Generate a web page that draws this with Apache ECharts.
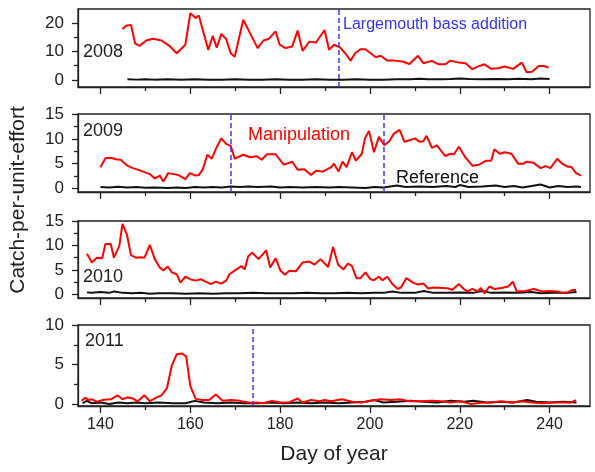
<!DOCTYPE html>
<html>
<head>
<meta charset="utf-8">
<script src="https://cdn.jsdelivr.net/npm/echarts@6/dist/echarts.min.js"></script>
<style>
  html, body { margin: 0; padding: 0; background: #fff; }
  #chart { width: 595px; height: 472px; }
</style>
</head>
<body>
<div id="chart"></div>
<script>
// [day of year, catch-per-unit-effort]
var manip2008 = [[144.9,17.9],[145.7,19.1],[146.8,19.4],[147.7,12.9],[148.7,12.0],[150.2,13.9],[151.7,14.5],[153.6,13.9],[155.5,11.8],[157,9.4],[158.9,12.4],[160,23.5],[161.2,21.8],[161.9,22.7],[164,10.6],[165,15.5],[165.9,11.4],[166.9,16.2],[168,14.4],[169,9.4],[169.9,8.2],[171.8,21.2],[173.3,16.5],[175,11.2],[176.3,13.9],[177.4,14.4],[179,17.1],[179.9,12.4],[181.2,11.2],[182.7,11.8],[183.9,17.4],[185,10.2],[186.5,13.5],[188,13.2],[189.9,17.6],[190.9,10.6],[192,12.4],[193.3,11.5],[194.5,9.4],[195.7,6.8],[196.7,9.4],[197.9,10.8],[199,10.8],[201.3,8.0],[202.4,8.5],[203.9,6.8],[205.4,6.8],[207.3,6.5],[208.8,5.6],[210.7,8.5],[211.9,5.9],[213.8,6.7],[215.3,5.5],[216.8,5.5],[217.9,6.8],[219.8,6.1],[221.3,5.9],[222.8,3.8],[224,4.7],[225.5,5.5],[227,3.9],[228.5,4.1],[230,4.7],[231.9,3.9],[233.8,6.1],[234.9,2.7],[236.1,2.9],[237.6,4.9],[238.7,4.9],[239.8,4.4]];
var ref2008 = [[146,0.2],[148,0.1],[150,0.2],[152,0.1],[155,0.2],[158,0.1],[161,0.2],[164,0.1],[167,0.1],[170,0.2],[173,0.1],[176,0.1],[179,0.2],[182,0.1],[185,0.1],[188,0.2],[191,0.1],[194,0.1],[197,0.2],[200,0.1],[203,0.1],[206,0.2],[209,0.2],[211,0.4],[213,0.2],[216,0.2],[218,0.3],[220,0.5],[222,0.3],[225,0.2],[228,0.3],[231,0.2],[233,0.4],[236,0.2],[238,0.5],[240,0.3]];

var manip2009 = [[140,4.3],[141.1,6.1],[142.3,6.2],[143.4,5.9],[144.5,5.8],[146,4.6],[147.2,4.1],[148.3,3.8],[149.8,3.3],[151,2.9],[152.1,2.0],[153.2,2.6],[154,1.4],[155.1,3.1],[156.3,2.9],[157.4,2.7],[158.9,1.9],[159.9,3.1],[161.2,2.6],[161.9,2.7],[162.8,3.9],[163.8,6.8],[164.8,6.0],[165.7,8.0],[166.9,10.1],[168,9.0],[169,8.6],[169.9,6.0],[171.8,6.8],[173.3,6.3],[174.8,6.5],[175.9,5.8],[177.1,6.9],[179,6.9],[180.8,4.8],[182.7,5.4],[183.9,3.8],[185.4,3.9],[186.9,2.7],[188,3.6],[189.5,3.4],[191.4,4.3],[192,5.0],[193,3.4],[193.9,5.4],[194.8,4.3],[196,7.3],[196.9,5.6],[198.2,7.0],[198.9,10.1],[199.8,11.6],[200.9,7.3],[202,10.4],[203.2,8.7],[204.3,9.5],[205.4,11.1],[206.6,11.8],[207.7,9.4],[208.8,9.7],[210,10.1],[211.1,9.4],[211.9,9.5],[212.6,10.6],[213.8,8.2],[214.9,8.7],[216.8,6.5],[217.9,7.0],[218.7,6.9],[219.8,8.4],[221.3,6.2],[222.8,4.6],[224.3,4.8],[225.9,5.6],[227,5.6],[227.7,7.9],[228.9,7.0],[230,7.3],[231.5,7.0],[233,5.0],[234.2,5.0],[234.9,5.4],[236.4,5.2],[238,4.1],[239.1,4.5],[240.2,4.1],[241.7,6.0],[242.8,5.0],[244,4.4],[244.8,4.4],[245.9,3.1],[247,2.6]];
var ref2009 = [[140,0.3],[142,0.2],[144,0.35],[146,0.2],[148,0.3],[150,0.15],[152,0.2],[155,0.1],[157,0.2],[159,0.1],[161,0.3],[163,0.2],[165,0.3],[167,0.2],[169,0.4],[171,0.3],[173,0.4],[175,0.3],[178,0.4],[180,0.2],[182,0.3],[185,0.2],[188,0.3],[191,0.2],[193,0.3],[196,0.2],[199,0.1],[201,0.3],[203,0.2],[206,0.6],[208,0.3],[211,0.4],[214,0.3],[217,0.5],[219,0.3],[220,0.7],[222,0.3],[225,0.4],[228,0.6],[230,0.3],[232,0.5],[234,0.2],[236,0.5],[238,0.8],[240,0.2],[242,0.5],[244,0.3],[246,0.4],[247,0.3]];

var manip2010 = [[137,8.3],[138.1,6.5],[139.2,7.5],[140.4,7.4],[141.1,10.3],[142.3,10.3],[143,7.5],[144.2,9.9],[144.9,14.4],[145.9,12.2],[146.8,8.0],[147.9,7.5],[149.1,7.6],[149.8,7.5],[151,10.1],[152.1,7.2],[153.2,5.5],[154,4.9],[155,5.7],[155.9,4.5],[157,4.1],[157.8,2.4],[158.9,3.6],[160,3.1],[161.2,2.8],[162.3,3.1],[163.4,2.6],[164.6,2.1],[165.7,2.6],[166.9,2.2],[168,2.8],[168.7,4.1],[170.3,5.1],[171.4,5.8],[172.1,5.1],[172.9,7.8],[173.8,8.5],[175.2,7.2],[176.9,9.0],[177.8,5.5],[179,7.4],[180.1,4.8],[181.1,4.0],[182,4.8],[183.5,4.7],[185,6.5],[186.5,6.7],[187.7,6.1],[189,7.2],[190.7,5.6],[191.8,9.7],[192.9,6.1],[194.1,5.1],[195.1,6.3],[196,5.8],[197,3.3],[197.9,3.3],[199,4.5],[200.1,3.1],[200.9,2.9],[202,3.6],[202.8,2.9],[203.9,3.6],[205,2.1],[206.2,1.1],[206.9,1.4],[208.1,3.3],[209.6,2.4],[210.7,2.0],[211.9,2.2],[213,1.2],[214.1,1.4],[216.4,1.3],[217.5,1.2],[218.3,0.9],[219.8,2.1],[220.9,1.1],[221.7,0.6],[222.8,1.1],[224,0.6],[224.7,1.3],[225.5,0.2],[226.6,1.6],[227.7,1.1],[229.3,1.3],[230.8,1.6],[231.8,2.6],[232.7,0.6],[234.6,0.7],[236.5,1.1],[238.3,0.6],[239.8,0.7],[241.7,0.6],[242.9,0.3],[244,0.4],[245.1,0.9],[245.9,0.9]];
var ref2010 = [[137,0.4],[138,0.3],[140,0.5],[142,0.3],[143,0.6],[145,0.3],[147,0.2],[149,0.3],[151,0.1],[153,0.2],[156,0.2],[159,0.1],[162,0.2],[165,0.1],[168,0.2],[171,0.2],[174,0.3],[177,0.2],[180,0.2],[183,0.2],[186,0.3],[189,0.2],[192,0.2],[195,0.3],[198,0.2],[201,0.3],[203,0.3],[205,0.6],[207,0.3],[210,0.3],[212,0.7],[214,0.3],[217,0.3],[220,0.4],[223,0.3],[225,0.7],[227,0.3],[230,0.4],[233,0.3],[236,0.5],[238,0.2],[241,0.3],[244,0.3],[246,0.5]];

var manip2011 = [[135.8,0.4],[136.6,0.8],[137.4,0.5],[138.1,0.6],[139.2,0.3],[140.8,0.55],[142.3,0.6],[143.8,1.1],[144.9,0.6],[146,0.85],[147.2,0.7],[148.3,0.35],[149.8,1.1],[151,0.35],[152.5,0.85],[153.6,1.1],[154.8,2.0],[155.9,4.9],[157,6.3],[158.2,6.4],[159.1,6.0],[160,2.3],[161.2,0.65],[162.7,0.5],[164.2,0.5],[165.7,1.2],[167.2,0.4],[169.1,0.5],[171,0.4],[173.3,0.15],[174.8,0.2],[176.3,0.1],[178.2,0.4],[180.1,0.2],[182,0.2],[183.9,0.7],[185,0.2],[186.9,0.5],[188.8,0.35],[189.9,0.5],[191.4,0.35],[193.7,0.6],[196,0.3],[198.2,0.2],[200.1,0.4],[202.4,0.6],[204.7,0.5],[206.6,0.6],[208.8,0.35],[211.1,0.35],[213.8,0.4],[216,0.35],[217.9,0.2],[220.2,0.35],[222.5,0.0],[224.7,0.15],[227,0.2],[229.3,0.35],[231.5,0.2],[233.8,0.35],[236.1,0.2],[238.3,0.1],[240.6,0.2],[242.9,0.2],[244.8,0.2],[245.9,0.5]];
var ref2011 = [[136,0.1],[137,0.4],[138,0.1],[140,0.2],[142,0.0],[144,0.2],[146,0.1],[148,0.2],[150,0.1],[153,0.2],[156,0.1],[159,0.1],[161,0.4],[163,0.2],[166,0.1],[169,0.2],[172,0.1],[175,0.1],[178,0.2],[181,0.1],[184,0.2],[187,0.1],[190,0.2],[193,0.1],[196,0.2],[199,0.3],[201,0.5],[203,0.2],[206,0.3],[209,0.4],[212,0.3],[215,0.2],[218,0.4],[221,0.3],[223,0.4],[226,0.2],[229,0.3],[232,0.2],[235,0.5],[237,0.3],[240,0.2],[243,0.3],[246,0.2]];

var xMajor = [140, 160, 180, 200, 220, 240];
var xMinor = [150, 170, 190, 210, 230];

// per panel: y range, labelled ticks, minor ticks, bass addition days
var panelYMin = [-2.5, -0.7, -0.75, -0.25];
var panelYMax = [25, 15, 15, 10];
var panelYMajor = [[0, 10, 20], [0, 5, 10, 15], [0, 5, 10, 15], [0, 5, 10]];
var panelYMinor = [[5, 15], [2.5, 7.5, 12.5], [2.5, 7.5, 12.5], [2.5, 7.5]];
var bassDays = [[193], [169, 203], [], [174]];
var yearLabels = ['2008', '2009', '2010', '2011'];
var manipData = [manip2008, manip2009, manip2010, manip2011];
var refData = [ref2008, ref2009, ref2010, ref2011];

var panelTop = [9, 114, 221, 325];
var panelHeight = [78, 78, 77, 81];

var font = 'Liberation Sans, Arial, sans-serif';
var myChart = echarts.init(document.getElementById('chart'), null, {renderer: 'canvas'});

var grids = [], xAxes = [], yAxes = [], series = [];
for (var i = 0; i < 4; i++) {
  var last = (i == 3);
  grids.push({
    left: 78, right: 5, top: panelTop[i], height: panelHeight[i],
    show: true, borderColor: '#222', borderWidth: 1.3, backgroundColor: 'transparent'
  });
  // major x ticks (labels only at the bottom)
  xAxes.push({
    gridIndex: i, type: 'value', min: 135, max: 249, position: 'bottom',
    axisLine: {show: true, onZero: false, lineStyle: {color: '#222', width: 1.3}},
    axisTick: {show: true, length: 7, customValues: xMajor, lineStyle: {color: '#222', width: 1.3}},
    axisLabel: {show: last, customValues: xMajor, margin: 11, color: '#222', fontSize: 16, fontFamily: font},
    splitLine: {show: false},
    name: last ? 'Day of year' : '', nameLocation: 'middle', nameGap: 38,
    nameTextStyle: {color: '#222', fontSize: 21, fontFamily: font}
  });
  // minor x ticks
  xAxes.push({
    gridIndex: i, type: 'value', min: 135, max: 249, position: 'bottom',
    axisLine: {show: false, onZero: false},
    axisTick: {show: true, length: 4, customValues: xMinor, lineStyle: {color: '#222', width: 1.3}},
    axisLabel: {show: false},
    splitLine: {show: false}
  });
  yAxes.push({
    gridIndex: i, type: 'value', min: panelYMin[i], max: panelYMax[i], position: 'left',
    axisLine: {show: true, onZero: false, lineStyle: {color: '#222', width: 1.3}},
    axisTick: {show: true, length: 6, customValues: panelYMajor[i], lineStyle: {color: '#222', width: 1.3}},
    axisLabel: {show: true, customValues: panelYMajor[i], margin: 14, color: '#222', fontSize: 17, fontFamily: font},
    splitLine: {show: false}
  });
  // minor y ticks
  yAxes.push({
    gridIndex: i, type: 'value', min: panelYMin[i], max: panelYMax[i], position: 'left',
    axisLine: {show: false, onZero: false},
    axisTick: {show: true, length: 4, customValues: panelYMinor[i], lineStyle: {color: '#222', width: 1.3}},
    axisLabel: {show: false},
    splitLine: {show: false}
  });

  series.push({
    name: 'Reference ' + yearLabels[i], type: 'line',
    xAxisIndex: i * 2, yAxisIndex: i * 2,
    data: refData[i], showSymbol: false, smooth: false,
    lineStyle: {color: '#111', width: 2}, z: 3
  });
  series.push({
    name: 'Manipulation ' + yearLabels[i], type: 'line',
    xAxisIndex: i * 2, yAxisIndex: i * 2,
    data: manipData[i], showSymbol: false, smooth: false,
    lineStyle: {color: '#ff0000', width: 2}, z: 4,
    markLine: {
      silent: true, symbol: 'none', label: {show: false},
      lineStyle: {color: '#3b3bf0', width: 1.5, type: [5, 3]},
      data: bassDays[i].map(function (d) { return {xAxis: d}; })
    }
  });
}

var texts = [
  {x: 83, y: 52, text: '2008', color: '#222', size: 18},
  {x: 343, y: 25, text: 'Largemouth bass addition', color: '#3535e6', size: 16},
  {x: 83, y: 131, text: '2009', color: '#222', size: 18},
  {x: 248, y: 135, text: 'Manipulation', color: '#ff0000', size: 18},
  {x: 396, y: 178, text: 'Reference', color: '#111', size: 18},
  {x: 83, y: 277, text: '2010', color: '#222', size: 18},
  {x: 85, y: 341, text: '2011', color: '#222', size: 18}
];
var graphic = texts.map(function (t) {
  return {
    type: 'text', left: t.x, top: t.y - t.size / 2, z: 10,
    style: {text: t.text, fill: t.color, fontSize: t.size, fontFamily: font}
  };
});
graphic.push({
  type: 'text', x: 18, y: 200, rotation: Math.PI / 2, z: 10,
  style: {text: 'Catch-per-unit-effort', fill: '#222', fontSize: 21, fontFamily: font,
          align: 'center', verticalAlign: 'middle'}
});

option = {
  backgroundColor: '#fff',
  animation: false,
  grid: grids,
  xAxis: xAxes,
  yAxis: yAxes,
  series: series,
  graphic: graphic
};
myChart.setOption(option);
</script>
</body>
</html>
